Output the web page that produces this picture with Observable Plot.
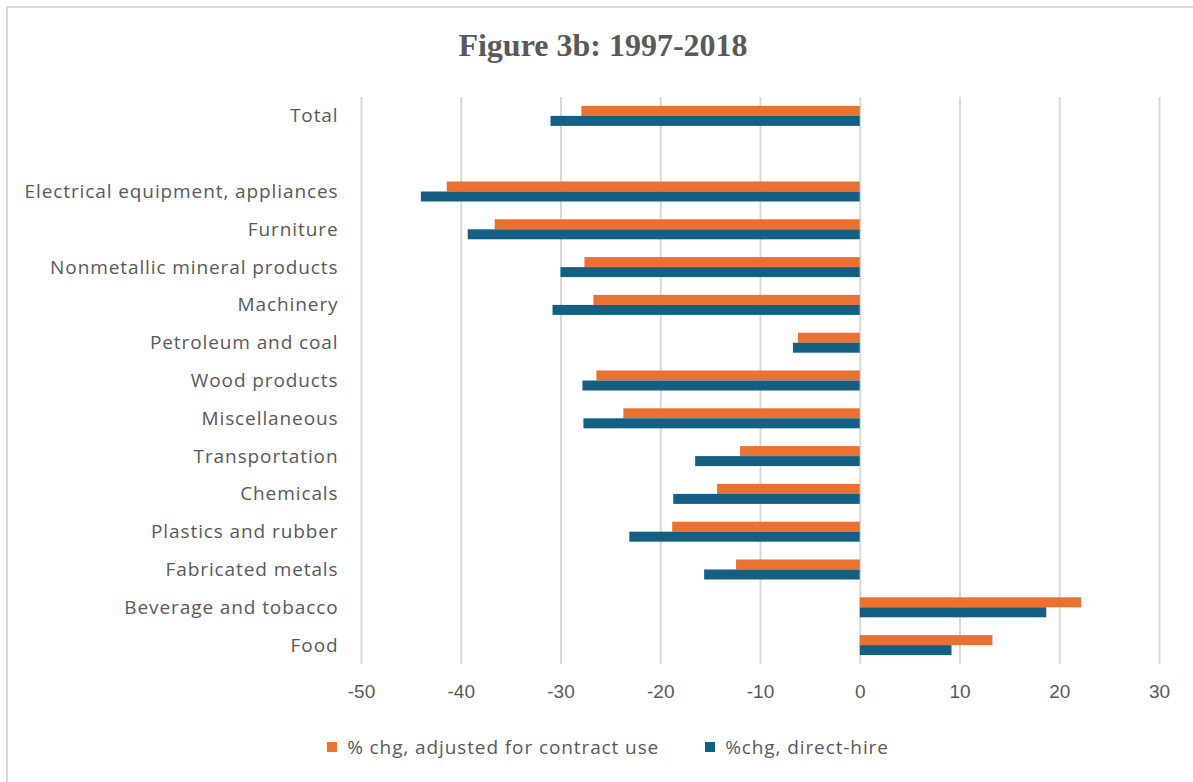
<!DOCTYPE html>
<html>
<head>
<meta charset="utf-8">
<script src="https://cdn.jsdelivr.net/npm/d3@7"></script>
<script src="https://cdn.jsdelivr.net/npm/@observablehq/plot@0.6"></script>
<style>
  body { margin: 0; background: #fff; width: 1193px; height: 782px; overflow: hidden; position: relative; font-family: "Open Sans", sans-serif; }
  #frame { position: absolute; left: 6px; top: 6px; width: 1220px; height: 820px; border: 2px solid #d9d9d9; box-sizing: border-box; }
  #title { position: absolute; left: 6px; width: 1194px; top: 27px; text-align: center; font: bold 32px "Liberation Serif", serif; color: #595959; }
  #chart { position: absolute; left: 0; top: 0; }
  #legend { position: absolute; top: 734px; left: 0; width: 1216px; display: flex; justify-content: center; gap: 46px; font-size: 19px; letter-spacing: 0.9px; color: #595959; }
  #legend .item { display: flex; align-items: center; }
  #legend .sw { width: 10px; height: 10px; margin-right: 10px; }
  .ylab text { letter-spacing: 0.9px; }
</style>
</head>
<body>
<div id="frame"></div>
<div id="title">Figure 3b: 1997-2018</div>
<div id="chart"></div>
<div id="legend"></div>
<script>
// Industries, top to bottom; a blank row separates the total from the rest
const industries = [
  "Total",
  "Electrical equipment, appliances",
  "Furniture",
  "Nonmetallic mineral products",
  "Machinery",
  "Petroleum and coal",
  "Wood products",
  "Miscellaneous",
  "Transportation",
  "Chemicals",
  "Plastics and rubber",
  "Fabricated metals",
  "Beverage and tobacco",
  "Food"
];
const rowOrder = [industries[0], " ", ...industries.slice(1)];

// Percent change in employment, 1997-2018
const adjustedChg = [-27.9, -41.4, -36.6, -27.6, -26.7, -6.2, -26.4, -23.7, -12.0, -14.3, -18.8, -12.4, 22.2, 13.3];
const directHireChg = [-31.0, -44.0, -39.3, -30.0, -30.8, -6.7, -27.8, -27.7, -16.5, -18.7, -23.1, -15.6, 18.7, 9.2];

const xTicks = [-50, -40, -30, -20, -10, 0, 10, 20, 30];

const seriesNames = ["% chg, adjusted for contract use", "%chg, direct-hire"];
const seriesColors = ["#E97132", "#156082"];

const adjusted = industries.map((name, i) => ({name, value: adjustedChg[i]}));
const direct = industries.map((name, i) => ({name, value: directHireChg[i]}));

const svgH = 720, plotTop = 97, plotBottom = 664;
const step = (plotBottom - plotTop) / rowOrder.length;
const barH = 10;
const inset = (step - barH) / 2;

const chart = Plot.plot({
  width: 1193,
  height: svgH,
  marginTop: plotTop,
  marginBottom: svgH - plotBottom,
  marginLeft: 361,
  marginRight: 34,
  style: { fontFamily: "Open Sans, sans-serif", color: "#595959", background: "transparent" },
  x: { domain: [-50, 30], ticks: xTicks, label: null },
  y: { domain: rowOrder, padding: 0, round: false, label: null },
  marks: [
    Plot.gridX(xTicks, { stroke: "#d9d9d9", strokeWidth: 2, strokeOpacity: 1 }),
    Plot.axisX({ ticks: xTicks, tickSize: 0, tickPadding: 20, fontSize: 19, fontFamily: "Liberation Sans, sans-serif", fill: "#595959", label: null, tickFormat: d => String(d) }),
    Plot.axisY({ tickSize: 0, tickPadding: 23, fontSize: 19, fill: "#595959", label: null, className: "ylab" }),
    Plot.barX(adjusted, { x: "value", y: "name", fill: seriesColors[0], insetTop: inset, insetBottom: inset, dy: -barH / 2 }),
    Plot.barX(direct, { x: "value", y: "name", fill: seriesColors[1], insetTop: inset, insetBottom: inset, dy: barH / 2 })
  ]
});
document.getElementById("chart").appendChild(chart);

const legend = document.getElementById("legend");
seriesNames.forEach((s, i) => {
  const item = document.createElement("div");
  item.className = "item";
  const sw = document.createElement("span");
  sw.className = "sw";
  sw.style.background = seriesColors[i];
  const t = document.createElement("span");
  t.textContent = s;
  item.appendChild(sw);
  item.appendChild(t);
  legend.appendChild(item);
});
</script>
</body>
</html>
